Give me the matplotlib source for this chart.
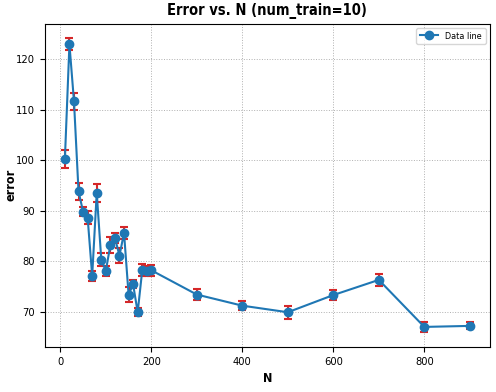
import matplotlib
matplotlib.use("Agg")
import matplotlib.pyplot as plt
import numpy as np

n_values = [10, 20, 30, 40, 50, 60, 70, 80, 90, 100, 110, 120, 130, 140, 150,
            160, 170, 180, 190, 200, 300, 400, 500, 600, 700, 800, 900]
errors = [100.2, 122.9, 111.6, 93.8, 89.8, 88.6, 77.1, 93.5, 80.3, 78.1, 83.2,
          84.6, 81.1, 85.6, 73.4, 75.4, 69.9, 78.2, 78.0, 78.2, 73.4, 71.2,
          69.9, 73.3, 76.3, 67.0, 67.2]
stds = [1.8, 1.2, 1.75, 1.75, 0.9, 1.25, 1.0, 1.75, 1.3, 1.0, 1.5, 1.05, 1.5,
        1.15, 1.4, 0.8, 0.8, 1.2, 1.0, 1.1, 1.1, 0.85, 1.25, 1.0, 1.15, 1.05, 0.7]

plt.rcParams["font.stretch"] = "condensed"

fig, ax = plt.subplots(figsize=(4.96, 3.92), dpi=100)
# error bars underneath, line + markers on top
ax.errorbar(n_values, errors, yerr=stds, fmt="none", ecolor="tab:red",
            elinewidth=1.5, capsize=3, capthick=1.5, zorder=2)
ax.plot(n_values, errors, "-o", color="tab:blue", markersize=6,
        linewidth=1.5, label="Data line", zorder=3)
ax.set_title("Error vs. N (num_train=10)", fontweight="bold", fontsize=10.5)
ax.set_xlabel("N", fontweight="bold", fontsize=9)
ax.set_ylabel("error", fontweight="bold", fontsize=9)
ax.yaxis.set_label_coords(-0.062, 0.5)
ax.grid(True, linestyle=":", color="#b0b0b0", linewidth=0.7)
ax.tick_params(labelsize=8)
ax.legend(loc="upper right", fontsize=6.5)
fig.subplots_adjust(left=0.09, right=0.988, top=0.94, bottom=0.115)
fig.savefig("out.png", dpi=100)
